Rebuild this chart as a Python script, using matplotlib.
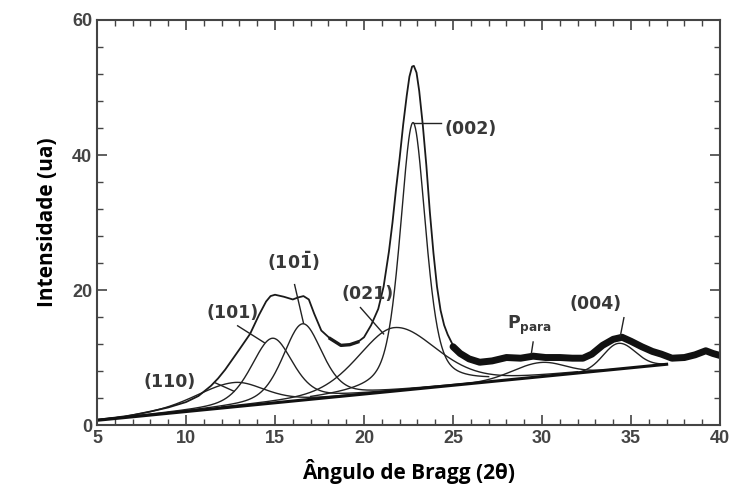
import numpy as np
import matplotlib
matplotlib.use("Agg")
import matplotlib.pyplot as plt
from matplotlib.ticker import MultipleLocator

# -------------------------
# Data
# -------------------------
# linear background (2theta, intensity)
base_x = [5.0, 37.0]
base_y = [0.7, 9.0]

# fitted peaks: centre, height above background, left / right half widths,
# lorentzian fraction
peak_names = ["(110)", "(101)", "(10-1)", "(021)", "(002)", "Ppara", "(004)"]
peak_center = [12.7, 14.85, 16.55, 21.7, 22.75, 29.9, 34.3]
peak_height = [3.6, 9.6, 11.3, 9.4, 39.5, 2.1, 3.8]
peak_hw_left = [2.6, 1.4, 1.3, 2.4, 0.85, 1.8, 1.0]
peak_hw_right = [2.0, 1.35, 1.3, 2.8, 0.85, 1.6, 1.1]
peak_eta = [0.3, 0.4, 0.4, 0.3, 0.5, 0.0, 0.0]
peak_range = [(5, 24), (5, 24), (9, 26), (12, 32), (17, 27), (25, 34.5), (31, 37)]

# observed pattern, fitted region (thin trace)
obs_x = [5.0, 6.5, 8.0, 9.0, 10.0, 10.7, 11.4, 11.8, 12.2, 12.6, 13.0, 13.6,
         14.1, 14.5, 14.75, 15.0, 15.5, 16.0, 16.3, 16.6, 16.9, 17.2, 17.6,
         18.1, 18.7, 19.2, 19.65, 20.0, 20.4, 20.8, 21.1, 21.4, 21.6, 21.8,
         22.0, 22.2, 22.4, 22.55, 22.7, 22.8, 22.95, 23.1, 23.3, 23.5, 23.7,
         23.9, 24.1, 24.3, 24.5, 24.7, 25.0]
obs_y = [0.7, 1.2, 2.0, 2.6, 3.4, 4.3, 5.8, 6.9, 8.2, 9.7, 11.2, 13.5,
         16.3, 18.3, 19.1, 19.3, 19.0, 18.6, 18.9, 19.1, 18.6, 16.5, 14.0,
         12.8, 11.8, 11.9, 12.3, 13.0, 14.8, 17.2, 20.5, 25.7, 30.0, 35.0,
         39.5, 44.5, 48.8, 51.6, 53.1, 53.2, 52.2, 49.5, 44.5, 38.5, 31.5,
         25.5, 20.5, 17.0, 14.8, 13.4, 11.8]

# observed pattern beyond the fitted region (thick noisy trace)
meas_x = [25.0, 25.4, 25.9, 26.5, 27.2, 28.0, 28.8, 29.5, 30.2, 31.0, 31.7,
          32.3, 32.8, 33.4, 34.0, 34.5, 35.0, 35.6, 36.2, 36.7, 37.3, 38.0,
          38.6, 39.2, 39.6, 40.0]
meas_y = [11.6, 10.6, 9.8, 9.3, 9.5, 10.0, 9.9, 10.2, 10.0, 10.0, 9.9,
          9.9, 10.5, 11.8, 12.7, 13.0, 12.4, 11.6, 10.9, 10.5, 9.9, 10.0,
          10.4, 11.0, 10.6, 10.3]

# labels: text, text position, leader line start, leader line end
label_text = ["(110)", "(101)", r"(10$\mathdefault{\bar{1}}$)", "(021)", "(002)",
              r"P$_{\mathdefault{para}}$", "(004)"]
label_pos = [(9.1, 6.4), (12.6, 16.6), (16.0, 24.2), (20.2, 19.4), (26.0, 43.8),
             (29.3, 14.8), (33.0, 17.9)]
leader_start = [(11.6, 6.3), (12.9, 14.7), (16.1, 20.8), (19.8, 17.4), (22.8, 44.7),
                (29.5, 12.3), (34.6, 15.9)]
leader_end = [(12.7, 5.0), (14.4, 12.2), (16.6, 15.1), (21.1, 13.5), (24.3, 44.7),
              (29.4, 10.6), (34.4, 13.2)]


def peak(x, c, h, wl, wr, eta):
    w = np.where(x < c, wl, wr)
    u = ((x - c) / w) ** 2
    return h * (eta / (1 + u) + (1 - eta) * np.exp(-np.log(2) * u))


fig = plt.figure(figsize=(7.37, 4.96), dpi=100)
ax = fig.add_axes([0.1316, 0.1431, 0.8454, 0.8166])

for c, h, wl, wr, eta, (lo, hi) in zip(peak_center, peak_height, peak_hw_left,
                                       peak_hw_right, peak_eta, peak_range):
    xs = np.linspace(lo, hi, 400)
    ax.plot(xs, np.interp(xs, base_x, base_y) + peak(xs, c, h, wl, wr, eta),
            color="#222222", lw=1.0)

ax.plot(obs_x, obs_y, color="#1a1a1a", lw=1.3, solid_joinstyle="round")
# noisier stretch in the valley between the peaks
ax.plot(obs_x[23:27], obs_y[23:27], color="#1a1a1a", lw=2.4)
ax.plot(meas_x, meas_y, color="#111111", lw=5.0, solid_joinstyle="round",
        solid_capstyle="round")
ax.plot(base_x, base_y, color="#111111", lw=2.2)

for t, p, s, e in zip(label_text, label_pos, leader_start, leader_end):
    ax.text(p[0], p[1], t, ha="center", va="center", fontsize=12.5,
            family="DejaVu Sans", fontweight="bold", color="#383838")
    ax.plot([s[0], e[0]], [s[1], e[1]], color="#222222", lw=1.0)

ax.set_xlim(5, 40)
ax.set_ylim(0, 60)
ax.xaxis.set_major_locator(MultipleLocator(5))
ax.xaxis.set_minor_locator(MultipleLocator(1))
ax.yaxis.set_major_locator(MultipleLocator(20))
ax.yaxis.set_minor_locator(MultipleLocator(4))
ax.tick_params(which="both", direction="in", top=True, right=True,
               color="#444444", labelsize=13, labelcolor="#444444")
ax.tick_params(which="major", length=7, width=1.2)
ax.tick_params(which="minor", length=4, width=1.0)
for lab in ax.get_xticklabels() + ax.get_yticklabels():
    lab.set_family("Liberation Sans")
    lab.set_fontweight("bold")
for sp in ax.spines.values():
    sp.set_color("#444444")
    sp.set_linewidth(1.5)

ax.set_xlabel("Ângulo de Bragg (2θ)", family="Open Sans", fontweight="bold",
              fontsize=15, labelpad=9)
ax.set_ylabel("Intensidade (ua)", family="Open Sans", fontweight="bold",
              fontsize=15, labelpad=10)

fig.savefig("out.png", dpi=100)
